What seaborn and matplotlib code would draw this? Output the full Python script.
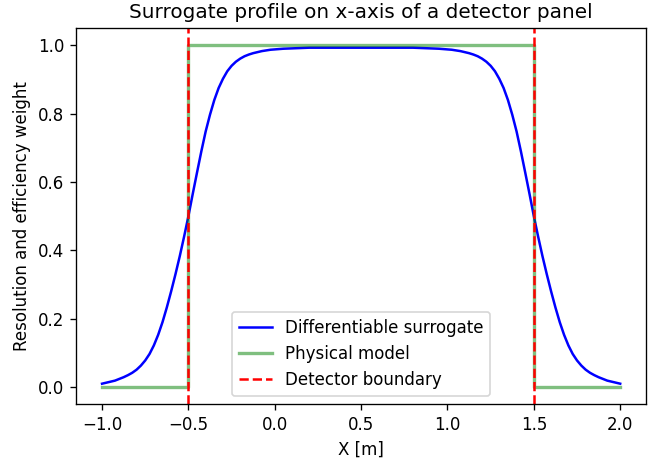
import matplotlib
matplotlib.use("Agg")
import matplotlib.pyplot as plt
import seaborn as sns
import pandas as pd

# Differentiable surrogate
x_surr = [-1.000, -0.975, -0.950, -0.925, -0.900, -0.875, -0.850, -0.825, -0.800, -0.775,
          -0.750, -0.725, -0.700, -0.675, -0.650, -0.625, -0.600, -0.575, -0.550, -0.525,
          -0.500, -0.475, -0.450, -0.425, -0.400, -0.375, -0.350, -0.325, -0.300, -0.275,
          -0.250, -0.225, -0.200, -0.175, -0.150, -0.125, -0.100, -0.075, -0.050, -0.025,
          0.000, 0.050, 0.100, 0.150, 0.200, 0.250, 0.300, 0.350, 0.400, 0.450,
          0.500,
          0.550, 0.600, 0.650, 0.700, 0.750, 0.800, 0.850, 0.900, 0.950, 1.000,
          1.025, 1.050, 1.075, 1.100, 1.125, 1.150, 1.175, 1.200, 1.225, 1.250,
          1.275, 1.300, 1.325, 1.350, 1.375, 1.400, 1.425, 1.450, 1.475, 1.500,
          1.525, 1.550, 1.575, 1.600, 1.625, 1.650, 1.675, 1.700, 1.725, 1.750,
          1.775, 1.800, 1.825, 1.850, 1.875, 1.900, 1.925, 1.950, 1.975, 2.000]
y_surr = [0.010, 0.013, 0.016, 0.019, 0.024, 0.029, 0.035, 0.042, 0.051, 0.063,
          0.078, 0.097, 0.122, 0.153, 0.190, 0.233, 0.280, 0.330, 0.383, 0.440,
          0.500, 0.565, 0.628, 0.690, 0.748, 0.797, 0.840, 0.875, 0.902, 0.924,
          0.940, 0.952, 0.961, 0.968, 0.973, 0.977, 0.980, 0.983, 0.985, 0.987,
          0.988, 0.990, 0.991, 0.992, 0.993, 0.993, 0.993, 0.993, 0.993, 0.993,
          0.993,
          0.993, 0.993, 0.993, 0.993, 0.993, 0.993, 0.992, 0.991, 0.990, 0.988,
          0.987, 0.985, 0.983, 0.980, 0.977, 0.973, 0.968, 0.961, 0.952, 0.940,
          0.924, 0.902, 0.875, 0.840, 0.797, 0.748, 0.690, 0.628, 0.565, 0.500,
          0.440, 0.383, 0.330, 0.280, 0.233, 0.190, 0.153, 0.122, 0.097, 0.078,
          0.063, 0.051, 0.042, 0.035, 0.029, 0.024, 0.019, 0.016, 0.013, 0.010]

# Physical model (step)
x_phys = [-1.0, -0.5, -0.5, 1.5, 1.5, 2.0]
y_phys = [0.0, 0.0, 1.0, 1.0, 0.0, 0.0]

# Detector boundaries
boundaries = [-0.5, 1.5]

x_ticks = [-1.0, -0.5, 0.0, 0.5, 1.0, 1.5, 2.0]
y_ticks = [0.0, 0.2, 0.4, 0.6, 0.8, 1.0]

df_surr = pd.DataFrame({"x": x_surr, "y": y_surr})
df_phys = pd.DataFrame({"x": x_phys, "y": y_phys})

fig = plt.figure(figsize=(662 / 120, 461 / 120), dpi=120)
ax = fig.add_axes([0.115, 0.1232, 0.861, 0.8156])

sns.lineplot(data=df_surr, x="x", y="y", ax=ax, color="blue", linewidth=1.5,
             estimator=None, sort=False, label="Differentiable surrogate")
sns.lineplot(data=df_phys, x="x", y="y", ax=ax, color="green", alpha=0.5,
             linewidth=2.0, estimator=None, sort=False, label="Physical model")
for i, b in enumerate(boundaries):
    ax.axvline(b, color="red", linestyle="--", linewidth=1.5,
               label="Detector boundary" if i == 0 else None)

ax.set_xticks(x_ticks)
ax.set_yticks(y_ticks)
ax.set_xlim(-1.15, 2.15)
ax.set_ylim(-0.05, 1.05)
ax.set_xlabel("X [m]")
ax.set_ylabel("Resolution and efficiency weight")
ax.set_title("Surrogate profile on x-axis of a detector panel")
ax.legend(loc="lower center")

fig.savefig("out.png", dpi=120)
